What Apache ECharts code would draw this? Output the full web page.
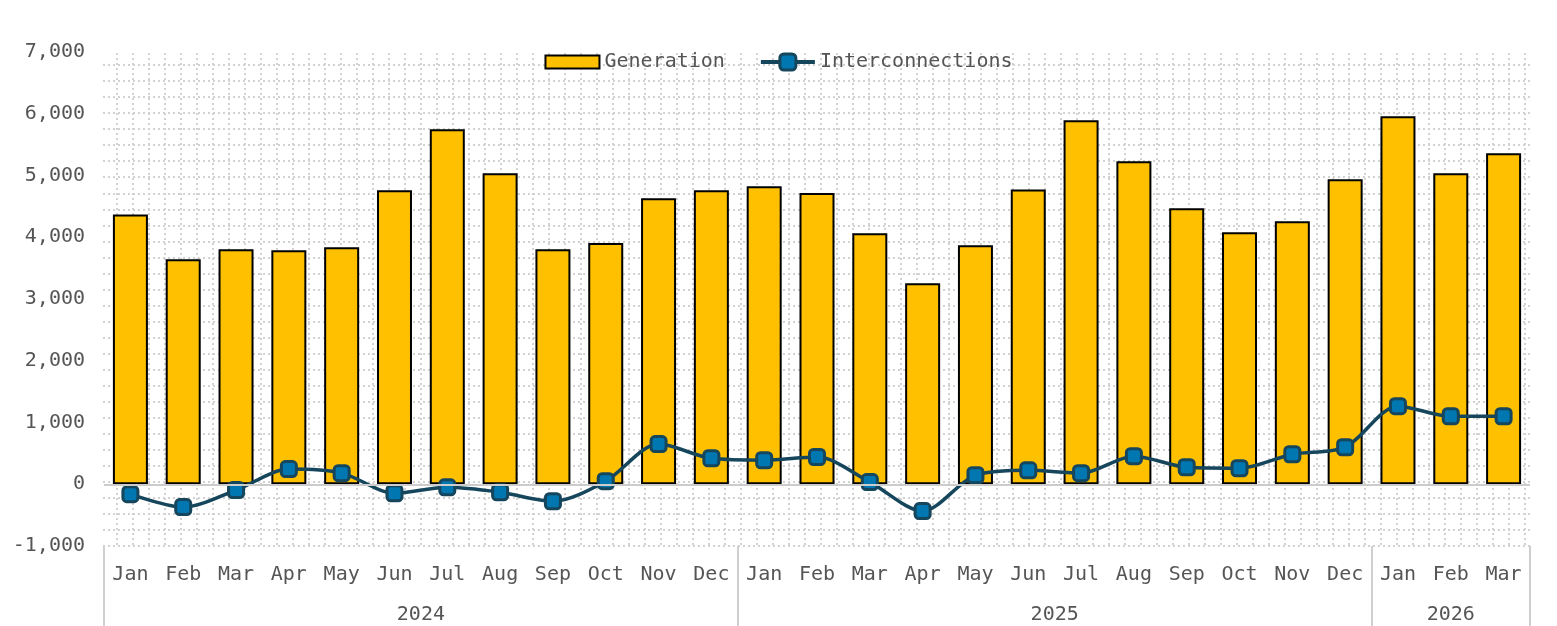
<!DOCTYPE html>
<html>
<head>
<meta charset="utf-8">
<script src="https://cdn.jsdelivr.net/npm/echarts@6/dist/echarts.min.js"></script>
<style>
  html, body { margin: 0; padding: 0; background: #ffffff; }
  #chart { width: 1557px; height: 626px; }
</style>
</head>
<body>
<div id="chart"></div>
<script>
// ---- Data ----
const months = ['Jan','Feb','Mar','Apr','May','Jun','Jul','Aug','Sep','Oct','Nov','Dec',
                'Jan','Feb','Mar','Apr','May','Jun','Jul','Aug','Sep','Oct','Nov','Dec',
                'Jan','Feb','Mar'];
const years = ['2024', '2025', '2026'];
const monthsPerYear = [12, 12, 3];
const generation = [4370, 3645, 3805, 3790, 3840, 4760, 5750, 5035, 3805, 3905, 4630, 4760,
                    4825, 4715, 4065, 3255, 3870, 4775, 5895, 5230, 4470, 4080, 4260, 4940,
                    5960, 5035, 5360];
const interconnections = [-160, -370, -95, 245, 180, -145, -50, -130, -275, 50, 650, 420,
                          390, 440, 35, -435, 145, 225, 180, 455, 275, 260, 485, 600,
                          1265, 1100, 1100];
const yTicks = { min: -1000, max: 7000, step: 1000 };

// ---- Year axis (half-month positions, boundaryGap false) ----
const totalMonths = monthsPerYear.reduce((a, b) => a + b, 0);
const yearSlots = new Array(totalMonths * 2 + 1).fill('');
const yearBoundaries = new Set([0]);
let acc = 0;
monthsPerYear.forEach((n, i) => {
  yearSlots[acc * 2 + n] = years[i];
  acc += n;
  yearBoundaries.add(acc * 2);
});

const FONT = '"DejaVu Sans Mono", monospace';
const TXT = '#555555';
const GRIDC = '#d2d2d2';
const LINEC = '#16465c';
const MARKC = '#0077b0';

const chart = echarts.init(document.getElementById('chart'), null, { renderer: 'canvas' });
chart.setOption({
  animation: false,
  backgroundColor: '#ffffff',
  textStyle: { fontFamily: FONT, color: TXT },
  legend: {
    top: 47,
    left: 'center',
    itemWidth: 54,
    itemHeight: 20,
    itemGap: 34,
    symbolKeepAspect: true,
    textStyle: { fontFamily: FONT, fontSize: 20, color: TXT },
    data: [
      { name: 'Generation', icon: 'path://M0,0 L54,0 L54,13 L0,13 Z',
        itemStyle: { color: '#FFC000', borderColor: '#000000', borderWidth: 2 } },
      { name: 'Interconnections',
        lineStyle: { color: LINEC, width: 4 },
        itemStyle: { color: MARKC, borderColor: LINEC, borderWidth: 3 } }
    ]
  },
  grid: [
    { left: 104, right: 27, top: 52, bottom: 80, containLabel: false, outerBoundsMode: 'none' },
    { left: 103, width: 1427, top: 65, height: 481, containLabel: false, outerBoundsMode: 'none' },
    { left: 116.7, width: 1408.3, top: 53, height: 493, containLabel: false, outerBoundsMode: 'none' }
  ],
  xAxis: [
    {
      type: 'category', gridIndex: 0, data: months, position: 'bottom',
      axisLine: { show: false }, axisTick: { show: false },
      axisLabel: { fontFamily: FONT, fontSize: 20, color: TXT, margin: 19, interval: 0 },
      splitLine: { show: false }
    },
    {
      type: 'category', gridIndex: 0, data: yearSlots, position: 'bottom', boundaryGap: false,
      axisLine: { show: false },
      axisTick: { show: true, length: 82, interval: (i) => yearBoundaries.has(i),
                  lineStyle: { color: '#cfcfcf', width: 2 } },
      axisLabel: { fontFamily: FONT, fontSize: 20, color: TXT, margin: 59,
                   interval: (i, v) => v !== '' },
      splitLine: { show: false }
    },
    { type: 'value', gridIndex: 1, min: 0, max: 1, show: false },
    {
      type: 'value', gridIndex: 2, min: 0, max: 88, interval: 1,
      axisLine: { show: false }, axisTick: { show: false }, axisLabel: { show: false },
      splitLine: { show: true, lineStyle: { color: GRIDC, width: 2, type: [2, 3] } }
    }
  ],
  yAxis: [
    {
      type: 'value', gridIndex: 0, min: yTicks.min, max: yTicks.max, interval: yTicks.step,
      axisLine: { show: false }, axisTick: { show: false },
      axisLabel: { fontFamily: FONT, fontSize: 20, color: TXT, margin: 19,
                   formatter: (v) => v.toLocaleString('en-US') },
      splitLine: { show: false }
    },
    {
      type: 'value', gridIndex: 1, min: 0, max: 30, interval: 1,
      axisLine: { show: false }, axisTick: { show: false }, axisLabel: { show: false },
      splitLine: { show: true, lineStyle: { color: GRIDC, width: 2, type: [2, 3] } }
    },
    { type: 'value', gridIndex: 2, min: 0, max: 1, show: false }
  ],
  series: [
    {
      name: 'Generation', type: 'bar', xAxisIndex: 0, yAxisIndex: 0,
      data: generation, barWidth: 35,
      itemStyle: { color: '#FFC000', borderColor: '#000000', borderWidth: 2 },
      markLine: {
        silent: true, symbol: 'none', label: { show: false },
        lineStyle: { color: '#cccccc', width: 2, type: 'solid' },
        data: [{ yAxis: 0 }]
      },
      z: 2
    },
    {
      name: 'Interconnections', type: 'line', xAxisIndex: 0, yAxisIndex: 0,
      data: interconnections, smooth: 0.3,
      symbol: 'roundRect', symbolSize: 15,
      lineStyle: { color: LINEC, width: 3.5 },
      itemStyle: { color: MARKC, borderColor: LINEC, borderWidth: 3 },
      z: 3
    }
  ]
});
</script>
</body>
</html>
